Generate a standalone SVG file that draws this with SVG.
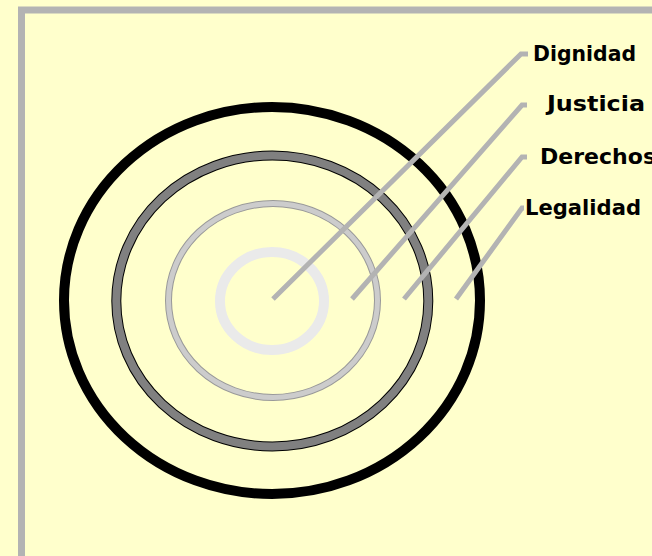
<svg xmlns="http://www.w3.org/2000/svg" width="652" height="556" viewBox="0 0 652 556">
<style>
.lbl{font-family:"DejaVu Sans","Liberation Sans",sans-serif;font-weight:bold;font-size:22px;fill:#000}
.lead{fill:none;stroke:#B3B3B3;stroke-width:5;stroke-linejoin:miter}
</style>
<rect x="0" y="0" width="652" height="556" fill="#FFFFCC"/>
<rect x="21.5" y="10" width="700" height="600" fill="#FFFFCC" stroke="#B3B3B3" stroke-width="7"/>
<g id="legalidad-ring">
<ellipse cx="272" cy="300.5" rx="208" ry="193.5" fill="none" stroke="#000" stroke-width="10"/>
</g>
<g id="derechos-ring">
<ellipse cx="272.3" cy="301" rx="156" ry="145.5" fill="none" stroke="#000" stroke-width="10"/>
<ellipse cx="272.3" cy="301" rx="156" ry="145.5" fill="none" stroke="#808080" stroke-width="8"/>
</g>
<g id="justicia-ring">
<ellipse cx="273" cy="300.5" rx="104.5" ry="97" fill="none" stroke="#999" stroke-width="7"/>
<ellipse cx="273" cy="300.5" rx="104.5" ry="97" fill="none" stroke="#CCCCCC" stroke-width="5"/>
</g>
<g id="dignidad-ring">
<ellipse cx="272" cy="301" rx="52" ry="49" fill="none" stroke="#EAEAEA" stroke-width="10"/>
</g>
<g id="connectors">
<path class="lead" d="M273,299 L521,54 L528,54"/>
<path class="lead" d="M352,299 L522,105 L527,105"/>
<path class="lead" d="M404,299 L522,157 L527,157"/>
<path class="lead" d="M456,299 L522,208 L524,208"/>
</g>
<g id="label-dignidad"><text class="lbl" x="533" y="61" textLength="103" lengthAdjust="spacingAndGlyphs">Dignidad</text></g>
<g id="label-justicia"><text class="lbl" x="547" y="111" textLength="98" lengthAdjust="spacingAndGlyphs">Justicia</text></g>
<g id="label-derechos"><text class="lbl" x="540" y="164" textLength="116" lengthAdjust="spacingAndGlyphs">Derechos</text></g>
<g id="label-legalidad"><text class="lbl" x="525" y="215" textLength="116" lengthAdjust="spacingAndGlyphs">Legalidad</text></g>
</svg>
